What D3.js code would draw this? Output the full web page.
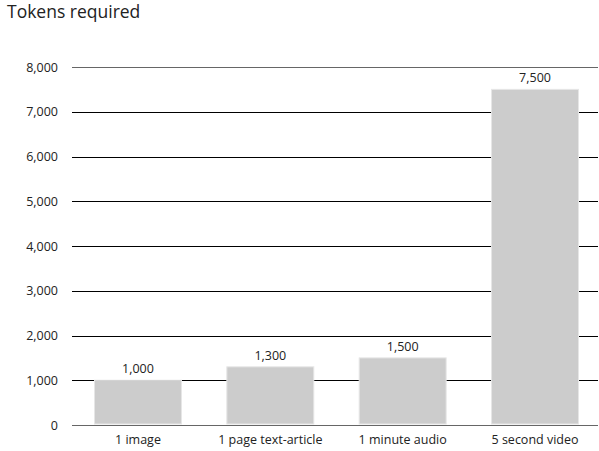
<!DOCTYPE html>
<html>
<head>
<meta charset="utf-8">
<script src="https://cdn.jsdelivr.net/npm/d3@7"></script>
<style>
  html, body { margin: 0; padding: 0; background: #fff; }
  svg { display: block; font-family: "Open Sans", "Noto Sans", sans-serif; }
</style>
</head>
<body>
<svg id="chart" width="599" height="451"></svg>
<script>
// Token cost per media type
const categories = ["1 image", "1 page text-article", "1 minute audio", "5 second video"];
const tokens = [1000, 1300, 1500, 7500];
const yTicks = [0, 1000, 2000, 3000, 4000, 5000, 6000, 7000, 8000];

const svg = d3.select("#chart");
const margin = { left: 72, right: -2, top: 67, bottom: 26 };
const W = 599, H = 451;
const gridRight = 598;

const x = d3.scaleBand()
  .domain(categories)
  .range([margin.left, W - margin.right])
  .paddingInner(0.343)
  .paddingOuter(0.17);

const y = d3.scaleLinear()
  .domain([0, 8000])
  .range([H - margin.bottom, margin.top]);

const fmt = d3.format(",");

// Title
svg.append("text")
  .attr("x", 7).attr("y", 18)
  .attr("font-size", 17.5).attr("fill", "#222")
  .text("Tokens required");

// Gridlines and tick labels
const yAxis = d3.axisLeft(y)
  .tickValues(yTicks)
  .tickSize(-(gridRight - margin.left))
  .tickPadding(14)
  .tickFormat(fmt);

const gy = svg.append("g")
  .attr("transform", `translate(${margin.left},0)`)
  .call(yAxis);
gy.select(".domain").remove();
gy.selectAll(".tick line")
  .attr("stroke", d => (d === 0 || d === 8000) ? "#666" : "#000")
  .attr("stroke-width", d => d === 0 ? 1.5 : 1)
  .attr("shape-rendering", "crispEdges");
gy.selectAll(".tick text")
  .attr("font-size", 12.5).attr("fill", "#222")
  .attr("font-family", "\"Open Sans\", \"Noto Sans\", sans-serif");

// Bars
svg.append("g").selectAll("rect")
  .data(categories)
  .join("rect")
  .attr("x", d => x(d))
  .attr("width", x.bandwidth())
  .attr("y", (d, i) => y(tokens[i]))
  .attr("height", (d, i) => y(0) - y(tokens[i]) - 1)
  .attr("fill", "#cccccc")
  .attr("stroke", "#e6e6e6")
  .attr("stroke-width", 1);

// Value labels
svg.append("g").selectAll("text")
  .data(categories)
  .join("text")
  .attr("x", d => x(d) + x.bandwidth() / 2)
  .attr("y", (d, i) => y(tokens[i]) - 7)
  .attr("text-anchor", "middle")
  .attr("font-size", 12.5).attr("fill", "#222")
  .text((d, i) => fmt(tokens[i]));

// Category labels
const xAxis = d3.axisBottom(x).tickSize(0).tickPadding(10);
const gx = svg.append("g")
  .attr("transform", `translate(0,${y(0)})`)
  .call(xAxis);
gx.select(".domain").remove();
gx.selectAll(".tick text")
  .attr("font-size", 12.5).attr("fill", "#222")
  .attr("font-family", "\"Open Sans\", \"Noto Sans\", sans-serif");
</script>
</body>
</html>
